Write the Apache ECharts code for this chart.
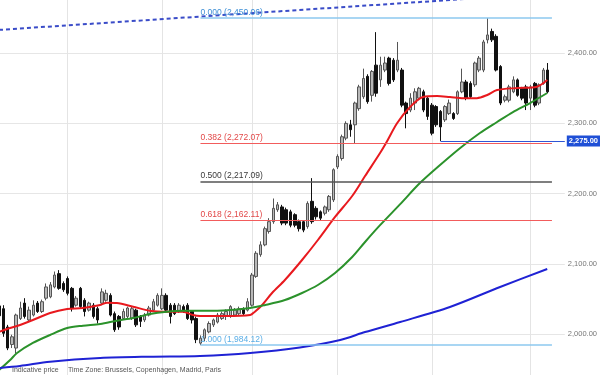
<!DOCTYPE html>
<html><head><meta charset="utf-8">
<script src="https://cdn.jsdelivr.net/npm/echarts@6/dist/echarts.min.js"></script>
<style>html,body{margin:0;padding:0;background:#fff}#c{width:600px;height:375px}</style>
</head><body><div id="c"></div>
<script>
// ---- candle data (c0 .. c128) ----
const opens = [2040,2036,2010,1985,1980,2022,2044,2020,2027,2044,2032,2051,2053,2067,2086,2072,2079,2065,2041,2065,
2048,2034,2041,2036,2044,2048,2055,2029,2025,2022,2025,2022,2034,2025,2020,2027,2034,2041,2036,2055,
2041,2041,2032,2039,2041,2032,2022,1987,1994,2003,2013,2017,2022,2025,2025,2027,2029,2035,2034,2041,
2082,2113,2127,2146,2160,2177,2181,2177,2174,2170,2160,2160,2153,2189,2179,2174,2172,2177,2191,2238,
2250,2279,2298,2298,2321,2338,2367,2340,2383,2362,2376,2393,2390,2376,2376,2329,2319,2329,2336,2345,
2336,2326,2324,2317,2305,2314,2314,2314,2345,2359,2357,2355,2376,2376,2419,2431,2424,2381,2333,2333,
2345,2362,2350,2352,2336,2357,2329,2357,2376];
const closes = [2026,2001,1980,1996,2027,2037,2025,2034,2041,2032,2046,2067,2070,2084,2065,2063,2058,2037,2051,2039,
2032,2044,2025,2020,2060,2058,2027,2006,2010,2032,2037,2036,2013,2018,2027,2037,2046,2055,2055,2034,
2025,2029,2041,2032,2022,2020,1992,1994,2006,2015,2020,2027,2029,2032,2039,2034,2036,2029,2046,2084,
2115,2127,2150,2160,2179,2184,2158,2158,2155,2155,2150,2148,2186,2160,2167,2165,2181,2196,2234,2253,
2281,2300,2291,2329,2352,2364,2331,2374,2343,2383,2386,2357,2362,2390,2326,2314,2336,2345,2350,2319,
2310,2286,2298,2295,2324,2329,2307,2345,2359,2336,2338,2386,2393,2416,2426,2419,2376,2329,2338,2352,
2362,2340,2336,2329,2352,2326,2355,2376,2345];
const lows = [2022,1996,1977,1980,1972,2020,2022,2018,2025,2030,2030,2048,2051,2065,2063,2060,2055,2032,2039,2037,
2025,2032,2022,2015,2041,2046,2025,2003,2006,2020,2022,2020,2010,2010,2017,2025,2032,2039,2034,2032,
2015,2027,2030,2030,2020,2015,1987,1984.12,1990,2001,2010,2015,2020,2020,2023,2025,2027,2027,2032,2039,
2080,2110,2125,2143,2157,2174,2155,2155,2152,2152,2146,2145,2150,2157,2163,2162,2169,2174,2188,2235,
2247,2276,2281,2272,2318,2335,2328,2331,2338,2352,2373,2354,2359,2373,2323,2293,2316,2319,2333,2316,
2305,2283,2295,2275,2302,2312,2305,2312,2343,2333,2336,2352,2373,2373,2414,2416,2374,2326,2330,2330,
2343,2338,2333,2319,2319,2323,2326,2355,2343];
const highs = [2045,2041,2013,1999,2029,2046,2051,2039,2048,2047,2049,2072,2074,2089,2091,2075,2082,2067,2054,2067,
2051,2046,2044,2039,2065,2063,2058,2032,2027,2036,2039,2039,2036,2027,2030,2040,2050,2058,2065,2058,
2044,2044,2044,2042,2044,2034,2025,1998,2008,2018,2022,2030,2032,2035,2041,2037,2039,2038,2051,2087,
2118,2132,2153,2165,2193,2188,2184,2180,2177,2172,2163,2162,2189,2222,2182,2176,2183,2198,2236,2256,
2284,2303,2305,2331,2355,2378,2370,2376,2430,2395,2395,2395,2393,2416,2379,2331,2343,2350,2352,2348,
2338,2329,2326,2319,2326,2334,2316,2347,2378,2362,2360,2388,2396,2419,2450.06,2435,2427,2383,2341,2355,
2367,2364,2352,2355,2355,2359,2357,2379,2386];

// ---- axis ----
const categoryCount = 133;
const categories = Array.from({length: categoryCount}, (_, i) => 'D' + i);
const monthStarts = [16, 38, 59, 79, 101, 124];
const yMin = 1900, yMax = 2500, yStep = 100;

// ---- moving averages (index position, value) ----
const redX = [0,2.6,4.9,7.9,11.9,15.9,19.6,23.6,25.2,27.5,31.3,35.2,39.2,42.9,45.3,46.9,52.7,58.6,59.7,61.4,63.7,66.7,70.7,74.4,78.4,82.4,85.4,88.9,90.3,92.9,95.9,98.9,102.2,105.2,108.3,111.5,113.9,116.2,120.9,125.5,127.9];
const redY = [2003,2008.5,2012.8,2019.9,2029.9,2035.6,2037,2041.3,2044.6,2044.2,2038.9,2033.2,2031.8,2031.8,2027,2025.6,2025.6,2027,2031.8,2041.3,2058.4,2076.9,2105.4,2133.9,2166.7,2196.6,2225,2257.8,2272,2300.6,2323.4,2337.6,2339,2337.6,2336,2336,2340.5,2347.6,2350.4,2352.3,2361.8];
const greenX = [0,2.6,4.2,7.9,11.9,15.9,19.6,23.6,27.5,31.3,35.2,39.2,42.9,50.9,58.6,62.1,66.7,70.7,74.4,78.4,82.4,85.4,88.9,93.6,98.2,102.9,107.6,112.2,116.2,119.9,123.9,127.9];
const greenY = [1948.7,1963,1972.9,1987.2,1998.6,2008.5,2011.8,2014.2,2018.9,2022.8,2028.5,2031.8,2033.2,2033.2,2037,2041.3,2048.4,2058.4,2069.8,2086.9,2109.7,2131.1,2155,2185,2215,2240.7,2265,2286.3,2302,2316.2,2329,2343.3];
const blueX = [0,4.9,11.9,23.6,35.2,46.9,58.6,70.2,79.6,85.4,93.6,105.2,116.9,127.9];
const blueY = [1951.6,1954.4,1960.5,1965.8,1967.7,1968.7,1972.9,1980.8,1991.5,2002.8,2017.1,2038.5,2067,2092.6];

// ---- trend line (dashed) ----
const trendX = [0, 132];
const trendY = [2433.2, 2486.6];

// ---- Fibonacci retracement ----
const fibRatios = ['0.000', '0.382', '0.500', '0.618', '1.000'];
const fibValues = [2450.06, 2272.07, 2217.09, 2162.11, 1984.12];
const fibLineColors = ['#8cc8ef', '#f25c5c', '#555555', '#f25c5c', '#8cc8ef'];
const fibTextColors = ['#3d8fd6', '#e24848', '#3a3a3a', '#e24848', '#5aaee6'];
const fibWidths = [1.5, 1, 1.5, 1, 1.5];
const fibStart = 47, fibEnd = 129;

// ---- last price ----
const lastPrice = 2275.00;
const lastPriceStart = 103;

const fmt = v => v.toLocaleString('en-US', {minimumFractionDigits: 2, maximumFractionDigits: 2});
const zip = (xs, ys) => xs.map((x, i) => [x, ys[i]]);
const FONT = 'Liberation Sans, Arial, sans-serif';

const fibLines = fibValues.map((v, k) => [
  {coord: [fibStart, v], lineStyle: {color: fibLineColors[k], width: fibWidths[k], type: 'solid'},
   label: {show: true, position: 'insideStartTop', distance: [0, 1], formatter: fibRatios[k] + ' (' + fmt(v) + ')',
           color: fibTextColors[k], fontSize: 8.5, fontFamily: FONT}},
  {coord: [fibEnd, v]}
]);

const chart = echarts.init(document.getElementById('c'), null, {renderer: 'canvas'});
chart.setOption({
  animation: false,
  backgroundColor: '#fff',
  title: [
    {text: 'Indicative price', left: 12, top: 367, padding: 0, textStyle: {fontSize: 7, fontWeight: 'normal', color: '#555', fontFamily: FONT}},
    {text: 'Time Zone: Brussels, Copenhagen, Madrid, Paris', left: 68, top: 367, padding: 0, textStyle: {fontSize: 7, fontWeight: 'normal', color: '#555', fontFamily: FONT}}
  ],
  grid: {left: -1, top: -17, width: 565.8, height: 421.2, containLabel: false, outerBoundsMode: 'none'},
  xAxis: [
    {type: 'category', data: categories, boundaryGap: false,
     axisLine: {show: false}, axisTick: {show: false}, axisLabel: {show: false},
     splitLine: {show: true, interval: (i) => monthStarts.includes(i), lineStyle: {color: '#e4e4e4', width: 1}}},
    {type: 'value', min: 0, max: categoryCount - 1, show: false}
  ],
  yAxis: {
    type: 'value', position: 'right', min: yMin, max: yMax, interval: yStep, scale: true,
    axisLine: {show: true, lineStyle: {color: '#dedede'}},
    axisTick: {show: false},
    axisLabel: {color: '#777', fontSize: 7.5, margin: 3, fontFamily: FONT, formatter: v => fmt(v)},
    splitLine: {lineStyle: {color: '#e6e6e6', width: 1}}
  },
  series: [
    {
      name: 'fib', type: 'line', xAxisIndex: 1, data: [], z: 1,
      markLine: {silent: true, symbol: ['none', 'none'], animation: false, data: fibLines}
    },
    {
      name: 'price', type: 'candlestick', xAxisIndex: 0, z: 3, barWidth: 3,
      data: opens.map((o, i) => [o, closes[i], lows[i], highs[i]]),
      itemStyle: {color: '#b8b8b8', color0: '#111111', borderColor: '#555555', borderColor0: '#111111', borderWidth: 1}
    },
    {name: 'ma20', type: 'line', xAxisIndex: 1, data: zip(redX, redY), smooth: 0.3, showSymbol: false, z: 4,
     lineStyle: {color: '#e8191e', width: 2}},
    {name: 'ma50', type: 'line', xAxisIndex: 1, data: zip(greenX, greenY), smooth: 0.3, showSymbol: false, z: 4,
     lineStyle: {color: '#2b922b', width: 2}},
    {name: 'ma200', type: 'line', xAxisIndex: 1, data: zip(blueX, blueY), smooth: 0.3, showSymbol: false, z: 4,
     lineStyle: {color: '#1f22d4', width: 2}},
    {name: 'trend', type: 'line', xAxisIndex: 1, data: zip(trendX, trendY), showSymbol: false, z: 4,
     lineStyle: {color: '#3a4cc8', width: 2, type: [4, 3]}},
    {
      name: 'last', type: 'line', xAxisIndex: 1, data: [], z: 5,
      markLine: {silent: true, symbol: ['none', 'none'], animation: false,
        data: [[
          {coord: [lastPriceStart, lastPrice], lineStyle: {color: '#2f55d4', width: 1, type: 'solid'},
           label: {show: true, position: 'end', distance: 2, formatter: fmt(lastPrice), color: '#fff',
                   backgroundColor: '#1f4fd6', padding: [2, 2, 1, 2], fontSize: 7.5, fontWeight: 'bold',
                   fontFamily: FONT}},
          {coord: [categoryCount - 1, lastPrice]}
        ]]}
    }
  ]
});
</script>
</body></html>
